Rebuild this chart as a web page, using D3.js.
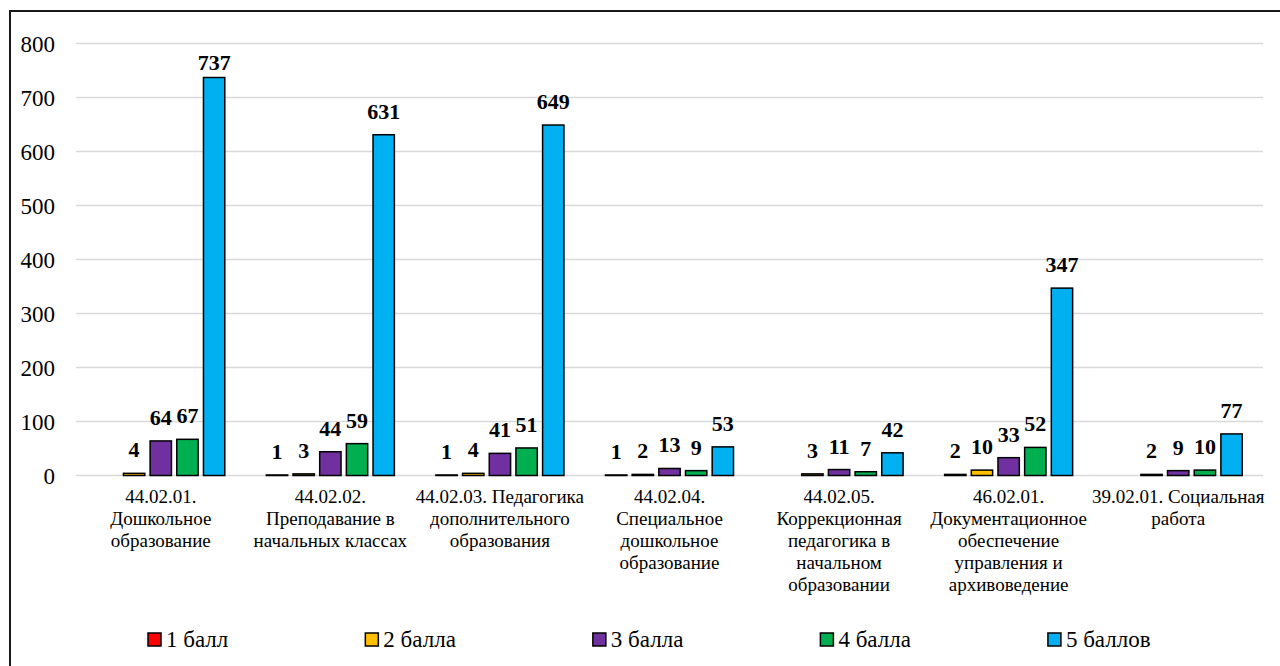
<!DOCTYPE html>
<html>
<head>
<meta charset="utf-8">
<script src="https://cdn.jsdelivr.net/npm/d3@7"></script>
<style>
  html, body { margin: 0; padding: 0; background: #fff; }
  svg { display: block; }
</style>
</head>
<body>
<svg id="chart" width="1280" height="666"></svg>
<script>
const categories = [
  "44.02.01.\nДошкольное\nобразование",
  "44.02.02.\nПреподавание в\nначальных классах",
  "44.02.03. Педагогика\nдополнительного\nобразования",
  "44.02.04.\nСпециальное\nдошкольное\nобразование",
  "44.02.05.\nКоррекционная\nпедагогика в\nначальном\nобразовании",
  "46.02.01.\nДокументационное\nобеспечение\nуправления и\nархивоведение",
  "39.02.01. Социальная\nработа"
];
const seriesNames = ["1 балл", "2 балла", "3 балла", "4 балла", "5 баллов"];
const ball1 = [null, 1, 1, 1, null, 2, null];
const ball2 = [4, 3, 4, 2, 3, 10, 2];
const ball3 = [64, 44, 41, 13, 11, 33, 9];
const ball4 = [67, 59, 51, 9, 7, 52, 10];
const ball5 = [737, 631, 649, 53, 42, 347, 77];
const yTicks = [0, 100, 200, 300, 400, 500, 600, 700, 800];
const colors = ["#FF0000", "#FFC000", "#7030A0", "#00B050", "#00B0F0"];

const seriesValues = [ball1, ball2, ball3, ball4, ball5];

const svg = d3.select("#chart");
const fontFam = "Liberation Serif";

// outer frame
svg.append("rect")
  .attr("x", 10).attr("y", 11)
  .attr("width", 1290).attr("height", 700)
  .attr("fill", "#fff").attr("stroke", "#1a1a1a").attr("stroke-width", 2);

const plot = { left: 76, right: 1263, top: 43.5, bottom: 475.5 };

const y = d3.scaleLinear().domain([0, 800]).range([plot.bottom, plot.top]);
const x0 = d3.scaleBand().domain(d3.range(categories.length))
  .range([plot.left, plot.right]).paddingInner(0.245).paddingOuter(0.1225);
const x1 = d3.scaleBand().domain(d3.range(seriesNames.length))
  .range([0, x0.bandwidth()]).paddingInner(0.2);

// gridlines
svg.append("g").selectAll("line").data(yTicks).join("line")
  .attr("x1", plot.left).attr("x2", plot.right)
  .attr("y1", d => y(d)).attr("y2", d => y(d))
  .attr("stroke", "#d9d9d9").attr("stroke-width", 1.5);

// y axis labels
svg.append("g").selectAll("text").data(yTicks).join("text")
  .attr("x", 55).attr("y", d => y(d))
  .attr("dy", "0.35em")
  .attr("text-anchor", "end")
  .style("font-family", fontFam).attr("font-size", 23)
  .attr("fill", "#000")
  .text(d => d);

// bars
const flat = [];
seriesValues.forEach((vals, s) => vals.forEach((v, c) => {
  if (v !== null) flat.push({ s, c, v });
}));

svg.append("g").selectAll("rect").data(flat).join("rect")
  .attr("x", d => x0(d.c) + x1(d.s))
  .attr("width", x1.bandwidth())
  .attr("y", d => y(d.v))
  .attr("height", d => y(0) - y(d.v))
  .attr("fill", d => colors[d.s])
  .attr("stroke", "#000").attr("stroke-width", 1.5);

// data labels
svg.append("g").selectAll("text").data(flat).join("text")
  .attr("x", d => x0(d.c) + x1(d.s) + x1.bandwidth() / 2)
  .attr("y", d => Math.max(y(d.v) - 16, 70))
  .attr("text-anchor", "middle")
  .style("font-family", fontFam).attr("font-size", 22).attr("font-weight", "bold")
  .attr("fill", "#000")
  .text(d => d.v);

// category labels
const catG = svg.append("g");
categories.forEach((cat, i) => {
  const cx = x0(i) + x0.bandwidth() / 2;
  const t = catG.append("text")
    .attr("x", cx)
    .attr("y", 503)
    .attr("text-anchor", "middle")
    .style("font-family", fontFam).attr("font-size", 19)
    .attr("fill", "#000");
  cat.split("\n").forEach((line, j) => {
    t.append("tspan")
      .attr("x", cx)
      .attr("dy", j === 0 ? 0 : 22)
      .text(line);
  });
});

// legend: entries laid out sequentially with equal gaps
const legG = svg.append("g");
let lxPos = 148;
seriesNames.forEach((name, i) => {
  const g = legG.append("g").attr("transform", `translate(${lxPos},0)`);
  g.append("rect")
    .attr("x", 0).attr("y", 633).attr("width", 13).attr("height", 13)
    .attr("fill", colors[i])
    .attr("stroke", "#000").attr("stroke-width", 1.5);
  const t = g.append("text")
    .attr("x", 18).attr("y", 647)
    .style("font-family", fontFam).attr("font-size", 23)
    .attr("fill", "#000")
    .text(name);
  lxPos += 18 + t.node().getComputedTextLength() + 137;
});
</script>
</body>
</html>
